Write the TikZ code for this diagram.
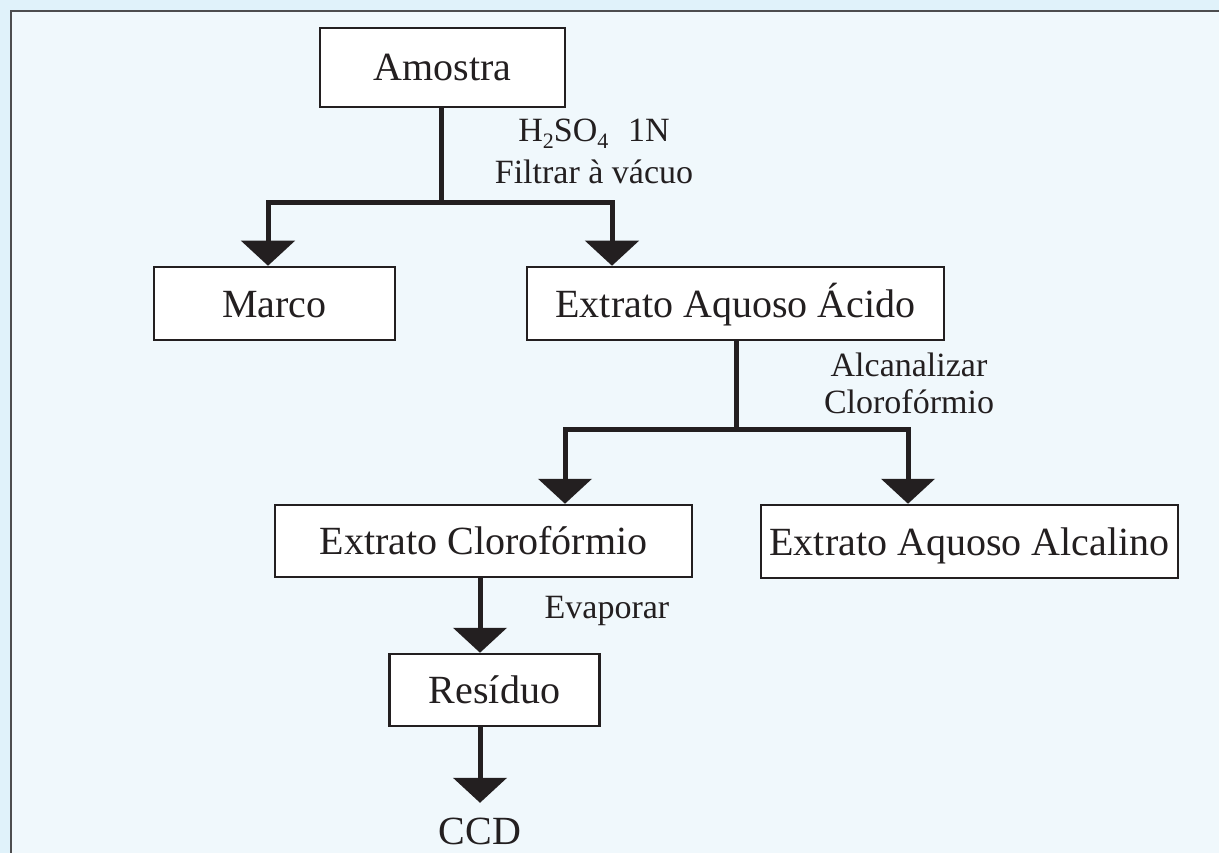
\documentclass[tikz,border=0pt]{standalone}
\usepackage{fontspec}
\setmainfont{Liberation Serif}
\usetikzlibrary{arrows.meta,positioning,calc}
\definecolor{frameBg}{HTML}{E0F2FA}
\definecolor{panelBg}{HTML}{F0F8FC}
\definecolor{inkBlack}{HTML}{231F20}
\definecolor{frameLine}{HTML}{4D4D4F}
\newcommand{\lowsub}[1]{\raisebox{-7pt}{\fontsize{22}{22}\selectfont #1}}
\tikzset{
  arr/.style={-{Triangle[width=53pt,length=25pt]}, line width=5pt, draw=inkBlack,
    line join=miter},
  stem/.style={line width=5pt, draw=inkBlack},
  box/.style={draw=inkBlack, fill=white, line width=2.5pt, text=inkBlack,
    font=\fontsize{40}{48}\selectfont, text height=27pt, text depth=0pt, inner sep=0pt},
  endtext/.style={text=inkBlack, font=\fontsize{40}{48}\selectfont,
    text height=27pt, text depth=0pt, inner sep=0pt},
  note/.style={text=inkBlack, font=\fontsize{34}{42}\selectfont, align=center,
    inner sep=0pt}
}

\begin{document}
\begin{tikzpicture}[x=1pt,y=-1pt]
  % panel
  \useasboundingbox (0,0) rectangle (1219,853);
  \fill[frameBg] (0,0) rectangle (1219,853);
  \draw[frameLine, line width=2.5pt, fill=panelBg] (11,11) rectangle (1240,880);

  % steps
  \node[box, minimum width=245pt, minimum height=79pt] (amostra) at (442.5,67.5) {Amostra};
  \node[box, minimum width=241pt, minimum height=73pt] (marco) at (274.5,303.5) {Marco};
  \node[box, minimum width=417pt, minimum height=73pt] (aquAcido) at (735.5,303.5) {Extrato Aquoso Ácido};
  \node[box, minimum width=417pt, minimum height=72pt] (cloro) at (483.5,541) {Extrato Clorofórmio};
  \node[box, minimum width=417pt, minimum height=73pt] (aquAlc) at (969.5,541.5) {Extrato Aquoso Alcalino};
  \node[box, minimum width=210pt, minimum height=72pt] (residuo) at (494.5,690) {Resíduo};
  \node[endtext] (ccd) at (480,830.5) {CCD};

  % branch points
  \coordinate (j1) at (441,203);
  \coordinate (j1l) at (268,203);
  \coordinate (j1r) at (612,203);
  \coordinate (j2) at (736,429);
  \coordinate (j2l) at (565,429);
  \coordinate (j2r) at (908,429);

  \draw[stem] (amostra.south -| j1) -- (j1);
  \draw[arr] (j1) -- (j1l) -- (j1l |- marco.north);
  \draw[arr] (j1) -- (j1r) -- (j1r |- aquAcido.north);
  \draw[stem] (aquAcido.south -| j2) -- (j2);
  \draw[arr] (j2) -- (j2l) -- (j2l |- cloro.north);
  \draw[arr] (j2) -- (j2r) -- (j2r |- aquAlc.north);
  \draw[arr] (cloro.south -| ccd) -- (residuo.north -| ccd);
  \draw[arr, shorten >=14pt] (residuo.south -| ccd) -- (ccd.north);

  % reagents
  \node[note] (acido) at (594,151) {H\lowsub{2}SO\lowsub{4}\,\, 1N\\Filtrar à vácuo};
  \node[note, font=\fontsize{34}{37}\selectfont] (alcal) at (909,383) {Alcanalizar\\Clorofórmio};
  \node[note, anchor=base] (evap) at (607,618) {Evaporar};
\end{tikzpicture}
\end{document}
